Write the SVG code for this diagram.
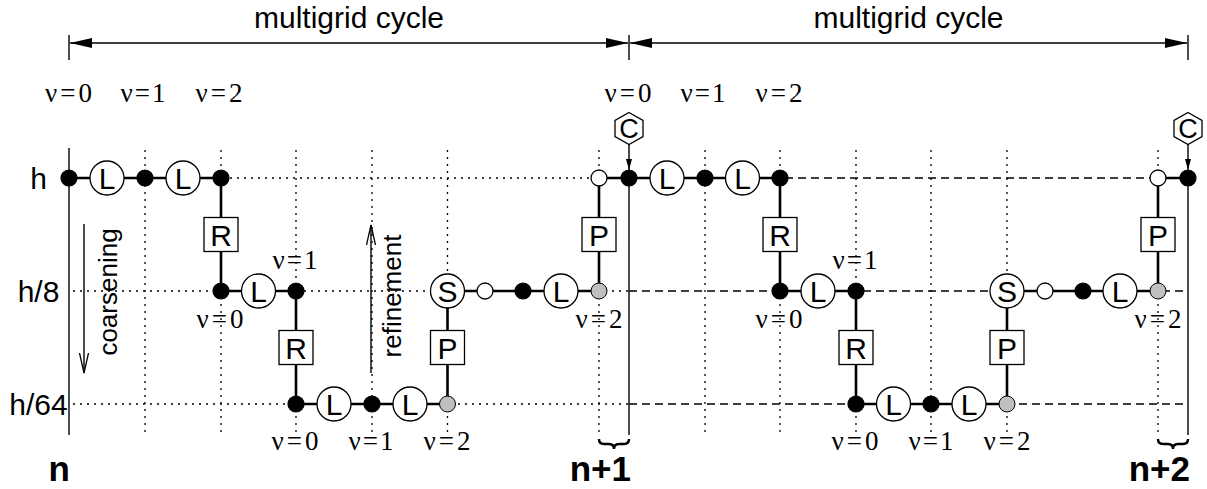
<svg xmlns="http://www.w3.org/2000/svg" width="1207" height="489" viewBox="0 0 1207 489">
<defs>
<style>
.bg{fill:#fff}
.dot{stroke:#000;stroke-width:1.3;stroke-dasharray:2 5;fill:none}
.dash{stroke:#000;stroke-width:1.3;stroke-dasharray:8 5;fill:none}
.ax{stroke:#000;stroke-width:1.4;fill:none}
.cn{stroke:#000;stroke-width:2.6;fill:none}
.blk{fill:#000;stroke:#000;stroke-width:1.2}
.opn{fill:#fff;stroke:#000;stroke-width:1.3}
.gry{fill:#bfbfbf;stroke:#000;stroke-width:1}
.op{fill:#fff;stroke:#000;stroke-width:1.3}
.lbl{font-family:"Liberation Sans",Arial,sans-serif;font-size:30px;text-anchor:middle;fill:#000}
.hex{font-family:"Liberation Sans",Arial,sans-serif;font-size:27px;text-anchor:middle;fill:#000}
.nu{font-family:"Liberation Serif","Times New Roman",serif;font-size:27px;text-anchor:middle;fill:#000}
.sans{font-family:"Liberation Sans",Arial,sans-serif;fill:#000}
.big{font-family:"Liberation Sans",Arial,sans-serif;font-size:35px;font-weight:bold;text-anchor:end;fill:#000}
.brace{stroke:#000;stroke-width:2.4;fill:none}
</style>
<marker id="ah" viewBox="0 0 22 10" refX="22" refY="5" markerWidth="22" markerHeight="10" markerUnits="userSpaceOnUse" orient="auto-start-reverse"><path d="M0,0 L22,5 L0,10 z" fill="#000"/></marker>
<marker id="sa" viewBox="0 0 11 6" refX="11" refY="3" markerWidth="11" markerHeight="6" markerUnits="userSpaceOnUse" orient="auto"><path d="M0,0 L11,3 L0,6 z" fill="#000"/></marker>
<marker id="oa" viewBox="0 0 21 10" refX="20" refY="5" markerWidth="21" markerHeight="10" markerUnits="userSpaceOnUse" orient="auto"><path d="M0,0.5 L20,5 L0,9.5" fill="none" stroke="#000" stroke-width="1.3"/></marker>
</defs>
<rect class="bg" x="0" y="0" width="1207" height="489"/>

<g id="grid">
<line class="dot" x1="69" y1="178" x2="629" y2="178"/>
<line class="dot" x1="73" y1="291" x2="629" y2="291"/>
<line class="dot" x1="73" y1="404" x2="629" y2="404"/>
<line class="dash" x1="629" y1="178" x2="1188" y2="178"/>
<line class="dash" x1="629" y1="291" x2="1184" y2="291"/>
<line class="dash" x1="629" y1="404" x2="1184" y2="404"/>
<line class="dot" x1="145" y1="150" x2="145" y2="435"/>
<line class="dot" x1="221" y1="150" x2="221" y2="435"/>
<line class="dot" x1="296" y1="150" x2="296" y2="435"/>
<line class="dot" x1="372" y1="150" x2="372" y2="435"/>
<line class="dot" x1="447.5" y1="150" x2="447.5" y2="435"/>
<line class="dot" x1="599" y1="150" x2="599" y2="435"/>
<line class="dot" x1="705" y1="150" x2="705" y2="435"/>
<line class="dot" x1="780" y1="150" x2="780" y2="435"/>
<line class="dot" x1="856" y1="150" x2="856" y2="435"/>
<line class="dot" x1="931" y1="150" x2="931" y2="435"/>
<line class="dot" x1="1007" y1="150" x2="1007" y2="435"/>
<line class="dot" x1="1158" y1="150" x2="1158" y2="435"/>
<line class="ax" x1="69" y1="148" x2="69" y2="435"/>
<line class="ax" x1="629" y1="178" x2="629" y2="435"/>
<line class="ax" x1="1188" y1="178" x2="1188" y2="435"/>
</g>

<g id="span-arrows">
<line class="ax" x1="69" y1="35" x2="69" y2="60"/>
<line class="ax" x1="629" y1="35" x2="629" y2="60"/>
<line class="ax" x1="1188" y1="35" x2="1188" y2="60"/>
<line class="ax" x1="70" y1="43" x2="628" y2="43" marker-start="url(#ah)" marker-end="url(#ah)"/>
<line class="ax" x1="630" y1="43" x2="1187" y2="43" marker-start="url(#ah)" marker-end="url(#ah)"/>
<text class="sans" x="349" y="28" font-size="30" text-anchor="middle">multigrid cycle</text>
<text class="sans" x="908.5" y="28" font-size="30" text-anchor="middle">multigrid cycle</text>
</g>

<g id="connectors">
<path class="cn" d="M69,178 H221 V291 H296 V404 H447.5 V291 H599 V178 H629"/>
<path class="cn" d="M629,178 H780 V291 H856 V404 H1007 V291 H1158 V178 H1188"/>
<line class="ax" x1="629" y1="144" x2="629" y2="170" marker-end="url(#sa)"/>
<line class="ax" x1="1188" y1="144" x2="1188" y2="170" marker-end="url(#sa)"/>
<line class="ax" x1="84" y1="224" x2="84" y2="373" marker-end="url(#oa)"/>
<line class="ax" x1="371" y1="373" x2="371" y2="225" marker-end="url(#oa)"/>
</g>

<g id="axis-labels">
<text class="sans" x="38.5" y="189" font-size="30" text-anchor="middle">h</text>
<text class="sans" x="38.5" y="302" font-size="30" text-anchor="middle">h/8</text>
<text class="sans" x="38.5" y="415" font-size="30" text-anchor="middle">h/64</text>
<text class="sans" font-size="26" text-anchor="middle" transform="translate(117,292) rotate(-90)">coarsening</text>
<text class="sans" font-size="26" text-anchor="middle" transform="translate(401,296) rotate(-90)">refinement</text>
<text class="big" x="70" y="481">n</text>
<text class="big" x="631" y="481">n+1</text>
<text class="big" x="1190" y="481">n+2</text>
<path class="brace" d="M599,439 Q599,444 604,444 L609,444 Q614,444 614,449 Q614,444 619,444 L624,444 Q629,444 629,439"/>
<path class="brace" d="M1158,439 Q1158,444 1163,444 L1168,444 Q1173,444 1173,449 Q1173,444 1178,444 L1183,444 Q1188,444 1188,439"/>
</g>

<g id="nu-labels">
<text class="nu" x="68.5" y="102" textLength="47" lengthAdjust="spacing">ν=0</text>
<text class="nu" x="143" y="102" textLength="45" lengthAdjust="spacing">ν=1</text>
<text class="nu" x="219" y="102" textLength="47" lengthAdjust="spacing">ν=2</text>
<text class="nu" x="628" y="102" textLength="47" lengthAdjust="spacing">ν=0</text>
<text class="nu" x="703" y="102" textLength="45" lengthAdjust="spacing">ν=1</text>
<text class="nu" x="779" y="102" textLength="47" lengthAdjust="spacing">ν=2</text>
<text class="nu" x="295" y="269" textLength="45" lengthAdjust="spacing">ν=1</text>
<text class="nu" x="220" y="328" textLength="47" lengthAdjust="spacing">ν=0</text>
<text class="nu" x="599" y="328" textLength="47" lengthAdjust="spacing">ν=2</text>
<text class="nu" x="295" y="450" textLength="47" lengthAdjust="spacing">ν=0</text>
<text class="nu" x="371" y="450" textLength="45" lengthAdjust="spacing">ν=1</text>
<text class="nu" x="447" y="450" textLength="47" lengthAdjust="spacing">ν=2</text>
<text class="nu" x="855" y="269" textLength="45" lengthAdjust="spacing">ν=1</text>
<text class="nu" x="779" y="328" textLength="47" lengthAdjust="spacing">ν=0</text>
<text class="nu" x="1158" y="328" textLength="47" lengthAdjust="spacing">ν=2</text>
<text class="nu" x="855" y="450" textLength="47" lengthAdjust="spacing">ν=0</text>
<text class="nu" x="931" y="450" textLength="45" lengthAdjust="spacing">ν=1</text>
<text class="nu" x="1007" y="450" textLength="47" lengthAdjust="spacing">ν=2</text>
</g>

<!-- cycle 1 nodes -->
<g id="c1-h0"><circle class="blk" cx="69" cy="178" r="8"/></g>
<g id="c1-L1"><circle class="opn" cx="107" cy="178" r="17"/><text class="lbl" x="107" y="189">L</text></g>
<g id="c1-h1"><circle class="blk" cx="145" cy="178" r="8"/></g>
<g id="c1-L2"><circle class="opn" cx="183" cy="178" r="17"/><text class="lbl" x="183" y="189">L</text></g>
<g id="c1-h2"><circle class="blk" cx="221" cy="178" r="8"/></g>
<g id="c1-R1"><rect class="op" x="204" y="217.5" width="34" height="34"/><text class="lbl" x="221" y="245.5">R</text></g>
<g id="c1-m0"><circle class="blk" cx="221" cy="291" r="8"/></g>
<g id="c1-L3"><circle class="opn" cx="258.5" cy="291" r="17"/><text class="lbl" x="258.5" y="302">L</text></g>
<g id="c1-m1"><circle class="blk" cx="296" cy="291" r="8"/></g>
<g id="c1-R2"><rect class="op" x="279" y="330.5" width="34" height="34"/><text class="lbl" x="296" y="358.5">R</text></g>
<g id="c1-c0"><circle class="blk" cx="296" cy="404" r="8"/></g>
<g id="c1-L4"><circle class="opn" cx="334" cy="404" r="17"/><text class="lbl" x="334" y="415">L</text></g>
<g id="c1-c1"><circle class="blk" cx="372" cy="404" r="8"/></g>
<g id="c1-L5"><circle class="opn" cx="410" cy="404" r="17"/><text class="lbl" x="410" y="415">L</text></g>
<g id="c1-c2"><circle class="gry" cx="447.5" cy="404" r="8"/></g>
<g id="c1-P1"><rect class="op" x="430.5" y="330.5" width="34" height="34"/><text class="lbl" x="447.5" y="358.5">P</text></g>
<g id="c1-S"><circle class="opn" cx="447.5" cy="291" r="17"/><text class="lbl" x="447.5" y="302">S</text></g>
<g id="c1-o1"><circle class="opn" cx="485" cy="291" r="8"/></g>
<g id="c1-b1"><circle class="blk" cx="523" cy="291" r="8"/></g>
<g id="c1-L6"><circle class="opn" cx="561" cy="291" r="17"/><text class="lbl" x="561" y="302">L</text></g>
<g id="c1-g1"><circle class="gry" cx="599" cy="291" r="8"/></g>
<g id="c1-P2"><rect class="op" x="582" y="217.5" width="34" height="34"/><text class="lbl" x="599" y="245.5">P</text></g>
<g id="c1-o2"><circle class="opn" cx="599" cy="178" r="8"/></g>
<g id="c1-end"><circle class="blk" cx="629" cy="178" r="8"/></g>
<g id="c1-C"><polygon class="op" points="629,112.5 643,120.5 643,136.5 629,144.5 615,136.5 615,120.5"/><text class="hex" x="629" y="138">C</text></g>

<!-- cycle 2 nodes -->
<g id="c2-L1"><circle class="opn" cx="667" cy="178" r="17"/><text class="lbl" x="667" y="189">L</text></g>
<g id="c2-h1"><circle class="blk" cx="705" cy="178" r="8"/></g>
<g id="c2-L2"><circle class="opn" cx="742.5" cy="178" r="17"/><text class="lbl" x="742.5" y="189">L</text></g>
<g id="c2-h2"><circle class="blk" cx="780" cy="178" r="8"/></g>
<g id="c2-R1"><rect class="op" x="763" y="217.5" width="34" height="34"/><text class="lbl" x="780" y="245.5">R</text></g>
<g id="c2-m0"><circle class="blk" cx="780" cy="291" r="8"/></g>
<g id="c2-L3"><circle class="opn" cx="818" cy="291" r="17"/><text class="lbl" x="818" y="302">L</text></g>
<g id="c2-m1"><circle class="blk" cx="856" cy="291" r="8"/></g>
<g id="c2-R2"><rect class="op" x="839" y="330.5" width="34" height="34"/><text class="lbl" x="856" y="358.5">R</text></g>
<g id="c2-c0"><circle class="blk" cx="856" cy="404" r="8"/></g>
<g id="c2-L4"><circle class="opn" cx="893.5" cy="404" r="17"/><text class="lbl" x="893.5" y="415">L</text></g>
<g id="c2-c1"><circle class="blk" cx="931" cy="404" r="8"/></g>
<g id="c2-L5"><circle class="opn" cx="969" cy="404" r="17"/><text class="lbl" x="969" y="415">L</text></g>
<g id="c2-c2"><circle class="gry" cx="1007" cy="404" r="8"/></g>
<g id="c2-P1"><rect class="op" x="990" y="330.5" width="34" height="34"/><text class="lbl" x="1007" y="358.5">P</text></g>
<g id="c2-S"><circle class="opn" cx="1007" cy="291" r="17"/><text class="lbl" x="1007" y="302">S</text></g>
<g id="c2-o1"><circle class="opn" cx="1045" cy="291" r="8"/></g>
<g id="c2-b1"><circle class="blk" cx="1083" cy="291" r="8"/></g>
<g id="c2-L6"><circle class="opn" cx="1120" cy="291" r="17"/><text class="lbl" x="1120" y="302">L</text></g>
<g id="c2-g1"><circle class="gry" cx="1158" cy="291" r="8"/></g>
<g id="c2-P2"><rect class="op" x="1141" y="217.5" width="34" height="34"/><text class="lbl" x="1158" y="245.5">P</text></g>
<g id="c2-o2"><circle class="opn" cx="1158" cy="178" r="8"/></g>
<g id="c2-end"><circle class="blk" cx="1188" cy="178" r="8"/></g>
<g id="c2-C"><polygon class="op" points="1188,112.5 1202,120.5 1202,136.5 1188,144.5 1174,136.5 1174,120.5"/><text class="hex" x="1188" y="138">C</text></g>
</svg>
